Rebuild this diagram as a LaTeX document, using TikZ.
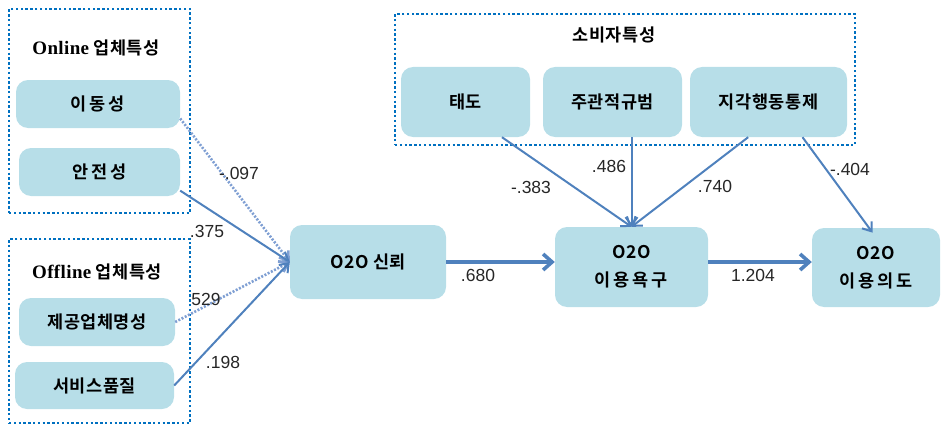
\documentclass[tikz,border=0pt]{standalone}
\usepackage{fontspec}
\setmainfont{Liberation Sans}
\newfontfamily\krfont{Noto Sans CJK KR}[BoldFont={Noto Sans CJK KR Bold},LetterSpace=3]
\newfontfamily\latinserif{Liberation Serif}[LetterSpace=2]
\usepackage{xcolor}
\usetikzlibrary{arrows.meta}

\definecolor{boxfill}{HTML}{B7DEE8}
\definecolor{grpblue}{HTML}{0070C0}
\definecolor{arrblue}{HTML}{4F81BD}
\definecolor{dotblue}{HTML}{7F9FD3}
\definecolor{numgray}{HTML}{262626}

\begin{document}
\begin{tikzpicture}[x=1pt,y=-1pt,
  factor/.style={fill=boxfill, rounded corners=12pt, align=center, inner sep=0pt,
    font=\krfont\bfseries\fontsize{17.5}{28}\selectfont},
  grpbox/.style={draw=grpblue, line width=2.6pt, dash pattern=on 2.4pt off 2.4pt},
  grptitle/.style={font=\krfont\bfseries\fontsize{17.5}{18}\selectfont},
  effect/.style={draw=arrblue, line width=2pt, -{Straight Barb[length=8pt,width=12pt]}},
  weakeffect/.style={effect, draw=dotblue, line width=2.6pt, dash pattern=on 2pt off 1.6pt},
  maineffect/.style={effect, line width=3.6pt, -{Straight Barb[length=9pt,width=16pt]}},
  coef/.style={font=\fontsize{17.5}{18}\selectfont, text=numgray, inner sep=0pt}]

  \useasboundingbox (0,0) rectangle (942,428);

  % Online group
  \node[grpbox, minimum width=181pt, minimum height=204pt] (onlinegrp) at (99.5,111) {};
  \node[grptitle] (onlinetitle) at (96,48) {{\latinserif\bfseries\fontsize{19}{18}\selectfont Online} 업체특성};
  \node[factor, minimum width=164pt, minimum height=48pt] (mobility) at (98,104) {이\,동\,성};
  \node[factor, minimum width=161pt, minimum height=48pt] (safety) at (99.5,172) {안\,전\,성};

  % Offline group
  \node[grpbox, minimum width=181pt, minimum height=184pt] (offlinegrp) at (99.5,331) {};
  \node[grptitle] (offlinetitle) at (97,272) {{\latinserif\bfseries\fontsize{19}{18}\selectfont Offline} 업체특성};
  \node[factor, minimum width=156pt, minimum height=48pt] (brand) at (97,322) {제공업체명성};
  \node[factor, minimum width=159pt, minimum height=47pt] (service) at (94.5,385.5) {서비스품질};

  % Consumer group
  \node[grpbox, minimum width=460pt, minimum height=131pt] (consumergrp) at (625,79.5) {};
  \node[grptitle] (consumertitle) at (614,35) {소비자특성};
  \node[factor, minimum width=129pt, minimum height=70pt] (attitude) at (465.5,102) {태도};
  \node[factor, minimum width=139pt, minimum height=70pt] (norm) at (612.5,102) {주관적규범};
  \node[factor, minimum width=157pt, minimum height=70pt] (control) at (768.5,102) {지각행동통제};

  % O2O chain
  \node[factor, minimum width=156pt, minimum height=74pt] (trust) at (368,262) {O2O 신뢰};
  \node[factor, minimum width=153pt, minimum height=80pt] (usage) at (631.5,267) {O2O\\이\,용\,욕\,구};
  \node[factor, minimum width=128pt, minimum height=79pt] (intent) at (876,267.5) {O2O\\이\,용\,의\,도};

  % Paths into trust
  \draw[weakeffect] (mobility.-10) -- (trust.west);
  \draw[effect] (safety.-13) -- (trust.west);
  \draw[weakeffect] (brand.east) -- (trust.west);
  \draw[effect] (service.east) -- (trust.west);

  % Paths from consumer factors
  \draw[effect] (attitude.-44) -- (usage.north);
  \draw[effect] (usage.north |- norm.south) -- (usage.north);
  \draw[effect] (control.-120) -- (usage.north);
  \draw[effect, shorten >=-6pt] (control.-46) -- (intent.100);

  % Main chain
  \draw[maineffect] (trust.east) -- (trust.east -| usage.west);
  \draw[maineffect] (usage.east |- trust.east) -- (intent.west |- trust.east);

  % Coefficients
  \node[coef] (c1) at (239,173) {-.097};
  \node[coef] (c2) at (207,231) {.375};
  \node[coef] (c3) at (206,299) {529};
  \node[coef] (c4) at (223,362) {.198};
  \node[coef] (c5) at (478,275) {.680};
  \node[coef] (c6) at (531,187) {-.383};
  \node[coef] (c7) at (609,166) {.486};
  \node[coef] (c8) at (715,186) {.740};
  \node[coef] (c9) at (850,169) {-.404};
  \node[coef] (c10) at (753,275) {1.204};
\end{tikzpicture}
\end{document}
